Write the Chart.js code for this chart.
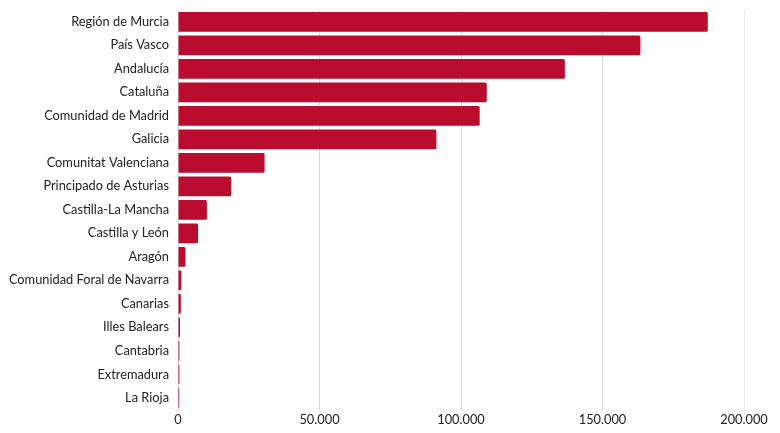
<!DOCTYPE html>
<html>
<head>
<meta charset="utf-8">
<script src="https://cdn.jsdelivr.net/npm/chart.js@4"></script>
<style>
  html, body { margin: 0; padding: 0; background: #fff; }
</style>
</head>
<body>
<canvas id="regionChart" width="780" height="433"></canvas>
<script>
const regions = [
  'Región de Murcia',
  'País Vasco',
  'Andalucía',
  'Cataluña',
  'Comunidad de Madrid',
  'Galicia',
  'Comunitat Valenciana',
  'Principado de Asturias',
  'Castilla-La Mancha',
  'Castilla y León',
  'Aragón',
  'Comunidad Foral de Navarra',
  'Canarias',
  'Illes Balears',
  'Cantabria',
  'Extremadura',
  'La Rioja'
];

const values = [187200, 163400, 136700, 109100, 106600, 91300, 30600, 18800, 10200, 7100, 2650, 1200, 1000, 700, 500, 500, 450];

const xTicks = [0, 50000, 100000, 150000, 200000];

// es-ES style grouping with a dot
const fmt = (v) => String(Math.round(v)).replace(/\B(?=(\d{3})+(?!\d))/g, '.');

const labelFont = { family: 'Lato', size: 12.8 };

const config = {
  type: 'bar',
  data: {
    labels: regions,
    datasets: [{
      data: values,
      backgroundColor: '#BA0C2F',
      borderRadius: 1.5,
      borderSkipped: 'left',
      categoryPercentage: 0.84,
      barPercentage: 1
    }]
  },
  options: {
    indexAxis: 'y',
    responsive: false,
    animation: false,
    layout: { padding: { top: 10, right: 36, left: 0, bottom: 2 } },
    plugins: { legend: { display: false }, tooltip: { enabled: false } },
    scales: {
      x: {
        min: 0,
        max: 200000,
        afterBuildTicks: (axis) => { axis.ticks = xTicks.map(v => ({ value: v })); },
        grid: {
          drawTicks: false,
          color: (ctx) => ctx.tick && ctx.tick.value === 200000 ? '#ececec' : '#d6d6d6'
        },
        border: { display: false },
        ticks: {
          padding: 3,
          color: '#222',
          font: labelFont,
          callback: (v) => fmt(v)
        }
      },
      y: {
        afterFit: (axis) => {
          axis.width = 178;
          axis.paddingTop = 0;
          axis.paddingBottom = 0;
        },
        grid: { display: false, drawTicks: false },
        border: { display: false },
        ticks: {
          padding: 9,
          color: '#222',
          font: labelFont
        }
      }
    }
  }
};

const regionChart = new Chart(document.getElementById('regionChart'), config);
</script>
</body>
</html>
